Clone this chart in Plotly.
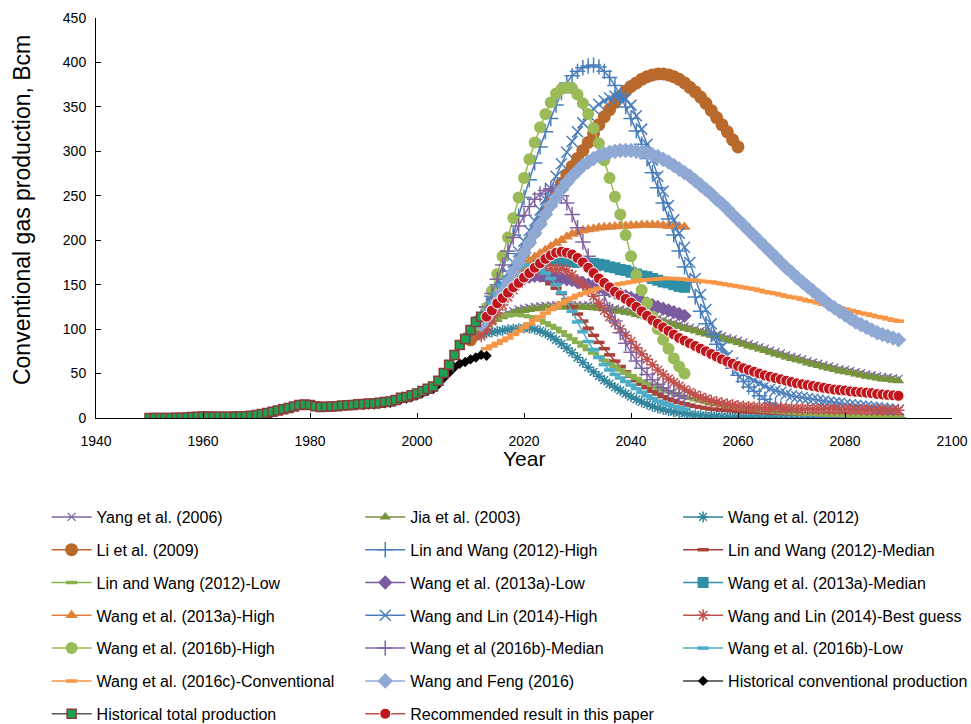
import plotly.graph_objects as go

# ---------------- data ----------------
hist_total_start = 1950
hist_total = [0.1, 0.1, 0.1, 0.1, 0.1, 0.2, 0.3, 0.7, 1.1, 1.5,
              1.8, 1.8, 1.5, 1.3, 1.4, 1.5, 1.8, 1.9, 2.0, 2.6,
              3.5, 4.5, 5.6, 6.9, 8.4, 9.8, 11.2, 12.9, 14.6, 15.2,
              14.6, 13.2, 12.4, 12.6, 12.9, 13.3, 14.0, 14.3, 14.7, 15.4,
              15.8, 16.3, 16.4, 17.2, 17.9, 18.5, 20.3, 22.8, 23.5, 25.5,
              27.6, 30.5, 33.0, 35.5, 42.0, 50.5, 60.0, 71.0, 82.0, 89.0,
              99.0, 108.0, 114.0]

hist_conv_start = 1990
hist_conv = [14.5, 15.0, 15.2, 16.0, 16.6, 17.2, 19.0, 21.0, 22.0, 23.5,
             25.5, 28.0, 30.5, 32.5, 38.0, 45.0, 51.0, 57.0, 61.0, 63.0,
             66.0, 68.0, 71.0, 70.0]

yang_start = 2010
yang = [94, 99, 103, 107, 110, 113, 116, 118, 120, 122,
        123, 124, 125, 125.5, 126, 126.5, 127, 127, 127, 127,
        127, 126.5, 126.5, 126, 125.5, 125, 124, 123, 122, 121,
        120, 118.5, 117, 115.5, 114, 112, 110, 108, 106.5, 105,
        103, 101.5, 100, 98, 96.5, 95, 93.5, 92, 90, 88.5,
        87, 85, 83, 81.5, 79.5, 78, 76, 74, 72.5, 70.5,
        69, 67.5, 66, 64, 62.5, 61, 59.5, 58, 56.5, 55,
        54, 53, 51.5, 50.5, 49, 48, 47, 46, 45.5, 44.5,
        44]

jia_start = 2010
jia = [92, 97, 101, 105, 108, 111, 114, 116, 118, 120,
       121, 122, 123, 123.5, 124, 124.5, 125, 125, 125, 125,
       125, 124.5, 124.5, 124, 123.5, 123, 122, 121, 120, 119,
       118, 116.5, 115, 113.5, 112, 110, 108, 106, 104.5, 103,
       101, 99.5, 98, 96, 94.5, 93, 91.5, 90, 88, 86.5,
       85, 83, 81, 79.5, 77.5, 76, 74, 72, 70.5, 68.5,
       67, 65.5, 64, 62, 60.5, 59, 57.5, 56, 54.5, 53,
       52, 51, 49.5, 48.5, 47, 46, 45, 44, 43.5, 42.5,
       42]

wang2012_start = 2010
wang2012 = [90, 92, 94, 95.5, 96.5, 97.5, 98.5, 99.5, 100, 100.5,
            101, 101, 100, 98, 95.5, 92, 88, 83.5, 78.5, 73.5,
            68, 62.5, 57, 52, 47, 42.5, 38.5, 34.5, 31, 27.5,
            24, 21, 18, 15.5, 13, 11, 9.5, 8, 7, 6,
            5, 4.2, 3.5, 3, 2.5, 2.1, 1.8, 1.5, 1.3, 1.1,
            1, 0.9, 0.8, 0.7, 0.7, 0.6, 0.6, 0.5, 0.5, 0.4,
            0.4, 0.4, 0.3, 0.3, 0.3, 0.3, 0.2, 0.2, 0.2, 0.2,
            0.2, 0.2, 0.1, 0.1, 0.1, 0.1, 0.1, 0.1, 0.1, 0.1,
            0.1]

li2009_start = 2010
li2009 = [88, 95, 103, 111, 120, 130, 140, 151, 162, 174,
          186, 198, 209, 220, 231, 242, 253, 264, 274, 283,
          292, 301, 310, 320, 330, 339, 347, 355, 362, 368,
          373, 377, 381, 384, 386, 387, 387, 386, 384, 381,
          377, 372, 367, 361, 354, 346, 338, 330, 322, 313,
          305]

lw_high_start = 2010
lw_high = [95, 104, 114, 125, 137, 150, 165, 185, 206, 227,
           248, 268, 287, 305, 322, 337, 352, 366, 377, 385,
           390, 394, 396, 397, 395, 390, 383, 374, 363, 350,
           337, 323, 308, 292, 276, 259, 242, 224, 206, 188,
           170, 153, 136, 120, 106, 94, 83, 73, 64, 56,
           48, 41, 35, 30, 25, 21, 17, 14, 11, 9,
           7, 5.5, 4.5, 3.5, 3, 2.5, 2, 1.7, 1.4, 1.2,
           1, 0.9, 0.8, 0.7, 0.6, 0.5, 0.5, 0.4, 0.4, 0.3,
           0.3]

lw_median_start = 2010
lw_median = [95, 102, 109, 116, 123, 130, 136, 142, 147, 151,
             154, 156, 157, 157, 155, 151, 146, 140, 133, 125,
             117, 109, 101, 93, 85, 78, 71, 64, 58, 52,
             47, 42, 38, 34, 30, 27, 24, 21.5, 19.5, 17.5,
             16, 14.5, 13, 12, 11, 10, 9.5, 9, 8.5, 8,
             7.5, 7, 6.8, 6.5, 6.2, 6, 5.8, 5.6, 5.4, 5.2,
             5, 4.9, 4.8, 4.7, 4.6, 4.5, 4.4, 4.3, 4.2, 4.1,
             4, 3.9, 3.8, 3.7, 3.6, 3.5, 3.4, 3.3, 3.2, 3.1,
             3]

lw_low_start = 2010
lw_low = [95, 100, 104, 108, 111, 113, 115, 116, 116, 116,
          115, 114, 112, 110, 107, 104, 101, 97, 93, 89,
          85, 81, 77, 73, 69, 65, 61, 57.5, 54, 50.5,
          47.5, 44.5, 41.5, 39, 36.5, 34, 31.5, 29.5, 27.5, 25.5,
          23.5, 22, 20.5, 19, 17.5, 16, 15, 14, 13, 12,
          11, 10.3, 9.6, 9, 8.4, 7.8, 7.3, 6.8, 6.3, 5.9,
          5.5, 5.1, 4.8, 4.5, 4.2, 3.9, 3.6, 3.4, 3.2, 3,
          2.8, 2.6, 2.4, 2.3, 2.2, 2.1, 2, 1.9, 1.8, 1.7,
          1.6]

w13_low_start = 2012
w13_low = [108, 116, 124, 132, 139, 145, 150, 154, 157, 159,
           160, 160, 160, 159, 158, 157, 156, 155, 153, 152,
           150, 149, 147, 145, 143, 141, 139, 137, 135, 133,
           131, 129, 127, 125, 123, 121, 119, 117, 115]

w13_median_start = 2012
w13_median = [110, 120, 130, 139, 147, 154, 160, 165, 169, 172,
              174, 176, 177, 177, 177, 177, 176, 176, 175, 175,
              174, 174, 173, 172, 170, 169, 167, 166, 164, 162,
              160, 159, 157, 155, 153, 152, 150, 148, 147]

w13_high_start = 2012
w13_high = [108, 118, 127, 136, 145, 152, 159, 165, 170, 176,
            181, 185, 189, 193, 197, 200, 204, 207, 209, 211,
            212, 213, 214, 214.5, 215, 215.5, 216, 216, 216.5, 216.5,
            217, 217, 217, 217, 216.5, 216, 216, 215.5, 215]

wl_high_start = 2012
wl_high = [110, 119, 129, 140, 151, 163, 175, 187, 199, 211,
           222, 234, 246, 258, 272, 286, 299, 311, 322, 332,
           341, 348, 353, 357, 360, 362, 362, 359, 352, 340,
           325, 308, 290, 272, 255, 239, 223, 208, 192, 175,
           157, 139, 122, 106, 92, 80, 70, 62, 55, 50,
           46, 42, 39, 36, 33, 31, 29, 27, 25, 24,
           23, 22, 21, 20, 19, 18, 17, 16.5, 15.5, 15,
           14, 13.5, 13, 12, 11.5, 11, 10, 9.5, 9]

wl_best_start = 2012
wl_best = [92, 100, 109, 118, 127, 136, 144, 151, 157, 162,
           165, 167, 168, 168, 168, 168, 166, 161, 155, 150,
           144, 137, 129, 121, 114, 107, 100, 93, 86, 79,
           72, 66, 60, 54, 49, 44, 40, 36, 32, 29,
           26, 23.5, 21.5, 19.5, 18, 16.5, 15.5, 14.5, 13.5, 13,
           12.5, 12, 11.8, 11.6, 11.4, 11.2, 11, 10.8, 10.6, 10.5,
           10.4, 10.3, 10.2, 10.1, 10, 9.9, 9.8, 9.7, 9.6, 9.5,
           9.4, 9.3, 9.2, 9.1, 9, 8.9, 8.8, 8.7, 8.6]

w16_high_start = 2012
w16_high = [110, 124, 143, 162, 182, 203, 225, 248, 270, 291,
            310, 327, 342, 355, 365, 370, 372, 371, 364, 354,
            342, 326, 309, 290, 270, 249, 229, 206, 182, 161,
            144, 129, 114, 100, 88, 78, 67, 58, 50]

w16_median_start = 2012
w16_median = [112, 125, 140, 156, 172, 188, 203, 216, 228, 238,
              246, 252, 256, 258, 256, 250, 242, 229, 214, 198,
              182, 166, 153, 138, 122, 109, 96, 84, 74, 64,
              56, 49, 43, 38, 34, 31, 28, 25, 22]

w16_low_start = 2012
w16_low = [110, 120, 130, 140, 149, 157, 164, 169, 172, 172,
           170, 167, 163, 157, 150, 141, 131, 120, 108, 97,
           86, 77, 68, 60, 54, 49, 45, 41, 37, 33,
           29, 25, 22, 19, 17, 15, 13, 11.5, 10]

w16c_start = 2013
w16c = [78, 81, 84, 87, 90, 94, 98, 102, 106, 110,
        114, 118, 122, 125, 129, 132, 135, 138, 140, 142,
        144, 146, 148, 149, 150, 151, 152, 153, 154, 155,
        155.5, 156, 156.5, 157, 157, 157, 156.5, 156, 155.5, 155,
        154, 153.5, 153, 152, 151, 150, 149, 148, 147, 146,
        145, 143.5, 142, 141, 140, 138.5, 137, 136, 135, 133.5,
        132, 131, 129.5, 128, 127, 125.5, 124, 122.5, 121, 119.5,
        118, 117, 115.5, 114, 113, 111.5, 110, 109]

wf_start = 2012
wang_feng = [105, 113, 122, 132, 142, 153, 164, 175, 186, 197,
             208, 218, 229, 239, 248, 257, 265, 272, 278, 284,
             288, 292, 295, 297, 299, 300, 301, 301, 301, 300,
             299, 298, 296, 294, 291, 288, 284, 280, 276, 272,
             267, 262, 257, 252, 246, 241, 235, 229, 223, 217,
             211, 205, 199, 193, 187, 181, 175, 169, 164, 158,
             153, 148, 143, 138, 133, 128, 124, 120, 116, 112,
             108, 105, 102, 99, 96, 94, 92, 90, 88]

rec_start = 2013
recommended = [114, 121, 129, 135, 141, 147, 152, 158, 163, 169,
               174, 179, 183, 186, 187, 186, 184, 180, 175, 169,
               163, 157, 152, 147, 142, 138, 134, 130, 125, 120,
               115, 110, 106, 102, 98, 94, 90, 87, 84, 81,
               78, 75, 72, 69, 66, 63.5, 61, 58.5, 56, 54,
               52, 50, 48, 46.5, 45, 43.5, 42, 40.5, 39, 38,
               37, 36, 35, 34, 33, 32, 31.5, 31, 30, 29.5,
               29, 28.5, 28, 27, 26.5, 26, 25.5, 25]

series_names = [
    "Yang et al. (2006)", "Jia et al. (2003)", "Wang et al. (2012)",
    "Li et al. (2009)", "Lin and Wang (2012)-High", "Lin and Wang (2012)-Median",
    "Lin and Wang (2012)-Low", "Wang et al. (2013a)-Low", "Wang et al. (2013a)-Median",
    "Wang et al. (2013a)-High", "Wang and Lin (2014)-High", "Wang and Lin (2014)-Best guess",
    "Wang et al. (2016b)-High", "Wang et al (2016b)-Median", "Wang et al. (2016b)-Low",
    "Wang et al. (2016c)-Conventional", "Wang and Feng (2016)", "Historical conventional production",
    "Historical total production", "Recommended result in this paper",
]
series_data = [
    (yang_start, yang), (jia_start, jia), (wang2012_start, wang2012),
    (li2009_start, li2009), (lw_high_start, lw_high), (lw_median_start, lw_median),
    (lw_low_start, lw_low), (w13_low_start, w13_low), (w13_median_start, w13_median),
    (w13_high_start, w13_high), (wl_high_start, wl_high), (wl_best_start, wl_best),
    (w16_high_start, w16_high), (w16_median_start, w16_median), (w16_low_start, w16_low),
    (w16c_start, w16c), (wf_start, wang_feng), (hist_conv_start, hist_conv),
    (hist_total_start, hist_total), (rec_start, recommended),
]

# ---------------- styles ----------------
# (symbol, size, fill colour, marker-line colour, marker-line width, line colour)
styles = [
    ("x-thin-open", 8, "#7E62A1", "#7E62A1", 1.3, "#7E62A1"),
    ("triangle-up", 10, "#77933C", "#77933C", 0, "#77933C"),
    ("asterisk-open", 9, "#31859C", "#31859C", 1.5, "#31859C"),
    ("circle", 13, "#B9692C", "#B9692C", 0, "#B9692C"),
    ("cross-thin-open", 11, "#4A7EBB", "#4A7EBB", 1.5, "#4A7EBB"),
    ("line-ew-open", 8, "#A9413D", "#A9413D", 3.5, "#A9413D"),
    ("line-ew-open", 8, "#8AAF4E", "#8AAF4E", 3.5, "#8AAF4E"),
    ("diamond", 11, "#7A5C9E", "#7A5C9E", 0, "#7A5C9E"),
    ("square", 11, "#2F8FA6", "#2F8FA6", 0, "#2F8FA6"),
    ("triangle-up", 11, "#E0813A", "#E0813A", 0, "#E0813A"),
    ("x-thin-open", 11, "#4A7EBB", "#4A7EBB", 1.5, "#4A7EBB"),
    ("asterisk-open", 10, "#C0504D", "#C0504D", 1.5, "#C0504D"),
    ("circle", 12, "#9BBB59", "#9BBB59", 0, "#9BBB59"),
    ("cross-thin-open", 11, "#8064A2", "#8064A2", 1.5, "#8064A2"),
    ("line-ew-open", 8, "#4BACC6", "#4BACC6", 3.5, "#4BACC6"),
    ("line-ew-open", 8, "#F79646", "#F79646", 3.5, "#F79646"),
    ("diamond", 12, "#8FA9D4", "#8FA9D4", 0, "#8FA9D4"),
    ("diamond", 8, "#000000", "#000000", 0, "#404040"),
    ("square", 9, "#1AA252", "#8B3A3A", 1.5, "#595959"),
    ("circle", 11, "#C0161E", "#FFFFFF", 1, "#C0504D"),
]

legends = ["legend", "legend2", "legend3"]

fig = go.Figure()
for i, (name, (start, vals), st) in enumerate(zip(series_names, series_data, styles)):
    sym, size, fill, mline, mlw, lcol = st
    years = list(range(start, start + len(vals)))
    fig.add_trace(go.Scatter(
        x=years, y=vals, name=name, mode="lines+markers",
        line=dict(color=lcol, width=1.5),
        marker=dict(symbol=sym, size=size, color=fill,
                    line=dict(color=mline, width=mlw)),
        legend=legends[i % 3], legendgroup="g%d" % i,
        showlegend=True,
    ))

font_family = "Arial, Liberation Sans, sans-serif"
legend_common = dict(
    orientation="v", yanchor="top", xanchor="left",
    font=dict(family=font_family, size=16, color="black"),
    bgcolor="rgba(0,0,0,0)", tracegroupgap=9, itemwidth=40,
    traceorder="grouped",
)

fig.update_layout(
    width=971, height=724,
    margin=dict(l=96, r=19, t=18, b=306, autoexpand=False),
    plot_bgcolor="white", paper_bgcolor="white",
    font=dict(family=font_family, color="black"),
    showlegend=True,
    legend=dict(x=-0.0577, y=-0.205, **legend_common),
    legend2=dict(x=0.3087, y=-0.205, **legend_common),
    legend3=dict(x=0.680, y=-0.205, **legend_common),
    xaxis=dict(
        range=[1940, 2100], tick0=1940, dtick=20,
        showline=True, linecolor="black", linewidth=1,
        ticks="inside", ticklen=5, tickcolor="black",
        showgrid=False, zeroline=False, automargin=False,
        tickfont=dict(size=14, family=font_family),
        ticklabelstandoff=10,
    ),
    yaxis=dict(
        range=[0, 450], tick0=0, dtick=50,
        showline=True, linecolor="black", linewidth=1,
        ticks="inside", ticklen=5, tickcolor="black",
        showgrid=False, zeroline=False, automargin=False,
        tickfont=dict(size=14, family=font_family),
        ticklabelstandoff=6,
    ),
    annotations=[
        dict(text="Year", xref="paper", yref="paper", x=0.5, y=-0.102,
             xanchor="center", yanchor="middle", showarrow=False,
             font=dict(size=21, family=font_family, color="black")),
        dict(text="Conventional gas production, Bcm", xref="paper", yref="paper",
             x=-0.0864, y=0.52, xanchor="center", yanchor="middle", textangle=-90,
             showarrow=False, font=dict(size=23, family=font_family, color="black")),
    ],
)

fig.write_html("out.html", config={"displayModeBar": False},
               post_script="document.body.style.margin='0px';")
